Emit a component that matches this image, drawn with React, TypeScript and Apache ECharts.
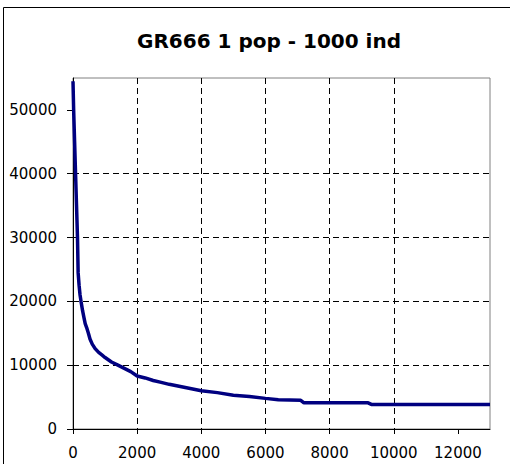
import React, { useEffect, useRef } from "react";
import * as echarts from "echarts";

const titleText = "GR666 1 pop - 1000 ind";
const xValues = [0, 20, 50, 80, 110, 140, 160, 190, 220, 250, 300, 340, 380, 425, 480, 530, 600, 690, 800, 900, 1000, 1200, 1400, 1600, 1800, 2000, 2250, 2500, 2750, 3000, 3500, 4000, 4500, 5000, 5500, 6000, 6400, 7100, 7200, 9200, 9300, 13000];
const yValues = [54500, 50000, 45000, 40000, 35000, 30000, 24500, 22500, 21000, 20000, 18500, 17500, 16500, 15900, 15000, 14100, 13300, 12600, 12000, 11600, 11200, 10500, 10000, 9500, 9000, 8300, 8000, 7600, 7300, 7000, 6500, 6000, 5700, 5300, 5100, 4800, 4600, 4500, 4100, 4100, 3850, 3850];
const yTicks = [0, 10000, 20000, 30000, 40000, 50000];
const xTicks = [0, 2000, 4000, 6000, 8000, 10000, 12000];

export default function App() {
  const ref = useRef<HTMLDivElement>(null);
  useEffect(() => {
    if (!ref.current) return;
    const chart = echarts.init(ref.current, null, { renderer: "svg" });
    const font = "DejaVu Sans";
    chart.setOption({
      animation: false,
      backgroundColor: "#ffffff",
      title: {
        text: titleText,
        left: 264,
        top: 26,
        textAlign: "center",
        textStyle: { fontFamily: font, fontWeight: "bold", fontSize: 20, color: "#000" },
      },
      graphic: [
        {
          type: "rect",
          shape: { x: 3.5, y: 7.5, width: 700, height: 700 },
          style: { fill: "none", stroke: "#000", lineWidth: 1 },
          silent: true,
        },
      ],
      grid: {
        left: 73,
        top: 78,
        width: 417,
        height: 351,
        show: true,
        borderColor: "#808080",
        borderWidth: 1,
        backgroundColor: "transparent",
      },
      xAxis: {
        type: "value",
        min: 0,
        max: 13000,
        interval: 2000,
        axisLine: { show: true, onZero: false, lineStyle: { color: "#000", width: 1 } },
        axisTick: { show: true, length: 5, customValues: xTicks, lineStyle: { color: "#000" } },
        axisLabel: {
          customValues: xTicks,
          formatter: (v: number) => String(v),
          margin: 16,
          fontFamily: font,
          fontSize: 15,
          color: "#000",
        },
        splitLine: {
          show: true,
          showMinLine: false,
          showMaxLine: false,
          lineStyle: { color: "#000", type: [6, 4], width: 1 },
        },
      },
      yAxis: {
        type: "value",
        min: 0,
        max: 55000,
        interval: 10000,
        axisLine: { show: true, onZero: false, lineStyle: { color: "#000", width: 1 } },
        axisTick: { show: true, length: 6, customValues: yTicks, lineStyle: { color: "#000" } },
        axisLabel: {
          customValues: yTicks,
          formatter: (v: number) => String(v),
          margin: 16,
          fontFamily: font,
          fontSize: 15,
          color: "#000",
        },
        splitLine: {
          show: true,
          showMinLine: false,
          showMaxLine: false,
          lineStyle: { color: "#000", type: [6, 4], width: 1 },
        },
      },
      series: [
        {
          type: "line",
          data: xValues.map((x, i) => [x, yValues[i]]),
          showSymbol: false,
          symbol: "none",
          lineStyle: { color: "#000080", width: 3.5 },
          clip: true,
        },
      ],
    });
    return () => chart.dispose();
  }, []);
  return (
    <div
      ref={ref}
      style={{ position: "fixed", left: 0, top: 0, width: 510, height: 464 }}
    />
  );
}
